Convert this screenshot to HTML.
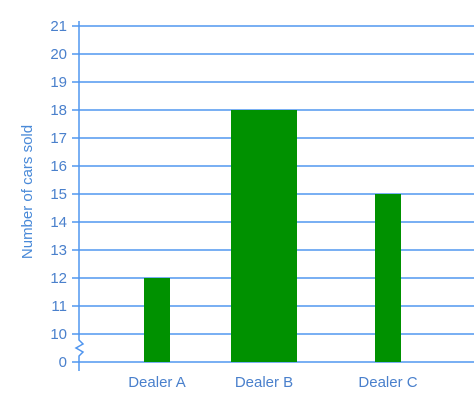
<!DOCTYPE html>
<html><head><meta charset="utf-8"><style>
body{margin:0;background:#fff;width:474px;height:414px;overflow:hidden}
svg{display:block;font-family:"Liberation Sans",sans-serif}
</style></head><body>
<svg id="c" width="474" height="414">
<text transform="translate(32,192) rotate(-90)" text-anchor="middle" font-size="15" fill="#4a8ad8">Number of cars sold</text>
</svg>
<script>
const categories=["Dealer A","Dealer B","Dealer C"];
const values=[12,18,15];
const tickLabels=[10,11,12,13,14,15,16,17,18,19,20,21];
const svg=document.getElementById('c');
const NS='http://www.w3.org/2000/svg';
const gc='#4f95ef', tc='#4a80cc';
function y(v){return v<10?362-(v/10)*28:334-(v-10)*28;}
const centers=[157,264,388], widths=[26,66,26];
function mk(t,a){const e=document.createElementNS(NS,t);for(const k in a)e.setAttribute(k,a[k]);svg.appendChild(e);return e;}
tickLabels.forEach(v=>{
 const l=mk('line',{x1:72,x2:474,y1:y(v),y2:y(v),stroke:gc,'stroke-width':1.5});
 
 
 const t=mk('text',{x:67,y:y(v)+5,'text-anchor':'end','font-size':15,fill:tc});
 t.textContent=v;
 
 
});
const z=mk('line',{x1:72,x2:474,y1:362,y2:362,stroke:gc,'stroke-width':1.5});


const zt=mk('text',{x:67,y:367,'text-anchor':'end','font-size':15,fill:tc});zt.textContent='0';


const ax=mk('path',{d:'M79 21 V340 L83 344 L76 348 L83 352 L79 356 V371',fill:'none',stroke:gc,'stroke-width':1.5});


categories.forEach((c,i)=>{
 const r=mk('rect',{x:centers[i]-widths[i]/2,y:y(values[i]),width:widths[i],height:362-y(values[i]),fill:'#009100'});
 
 
 const t=mk('text',{x:centers[i],y:387,'text-anchor':'middle','font-size':15,fill:tc});
 t.textContent=c;
 
 
});
</script>
</body></html>
